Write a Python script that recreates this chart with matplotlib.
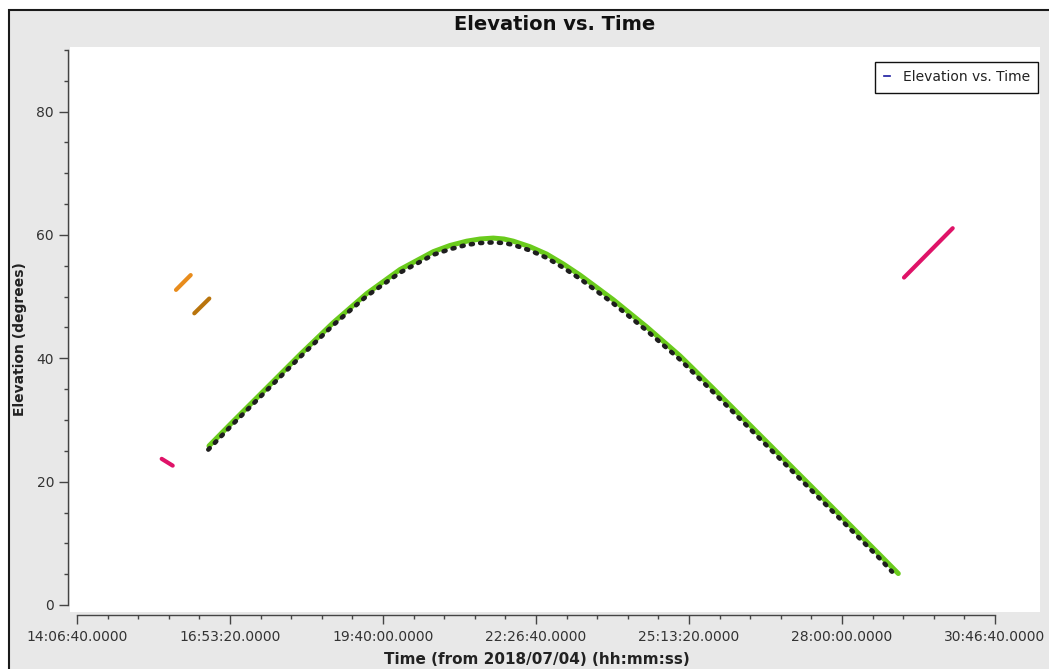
import matplotlib
matplotlib.use("Agg")
import matplotlib.pyplot as plt
from matplotlib.patches import Rectangle
from matplotlib.ticker import FixedLocator, FuncFormatter
from matplotlib.lines import Line2D

# ---------------- data (seconds from 2018/07/04 00:00, elevation deg) -------------
green_t = [59428, 61016, 63199, 65375, 67552, 69735, 71911, 74088, 75179, 76271,
           77140, 78009, 78700, 79316, 80408, 81500, 82585, 83676, 84768, 85853, 88036,
           90212, 92389, 94572, 96748, 98925, 101108, 103284, 104480]
green_el = [25.8, 29.8, 35.2, 40.6, 45.8, 50.5, 54.4, 57.3, 58.3, 59.0,
            59.35, 59.5, 59.35, 59.0, 58.1, 56.9, 55.3, 53.5, 51.5, 49.5, 45.1,
            40.4, 35.1, 29.7, 24.3, 18.9, 13.5, 8.1, 5.1]

black_t = [59382, 61016, 63199, 65375, 67552, 69735, 71911, 74088, 75179, 76271,
           77140, 78009, 78700, 79316, 80408, 81500, 82585, 83676, 84768, 85853, 88036,
           90212, 92389, 94572, 96748, 98925, 101108, 103284, 104068]
black_el = [25.2, 29.4, 34.8, 40.2, 45.4, 50.1, 53.9, 56.8, 57.7, 58.4,
            58.7, 58.8, 58.7, 58.4, 57.5, 56.3, 54.7, 52.9, 50.9, 48.9, 44.5,
            39.8, 34.5, 29.1, 23.7, 18.3, 12.9, 7.5, 5.4]

pink1_t = [56336, 57055]
pink1_el = [23.7, 22.6]
orange_t = [57271, 58232]
orange_el = [51.1, 53.5]
brown_t = [58467, 59447]
brown_el = [47.3, 49.7]
pink2_t = [104853, 108035]
pink2_el = [53.1, 61.1]

legend_label = "Elevation vs. Time"
x_major_ticks = [50800, 60800, 70800, 80800, 90800, 100800, 110800]
x_minor_ticks = list(range(50800, 110801, 2000))
y_major_ticks = [0, 20, 40, 60, 80]
y_minor_ticks = list(range(0, 91, 5))

# ---------------- figure ----------------
W, H = 1049, 669
fig = plt.figure(figsize=(W / 100, H / 100), dpi=100)
fig.patch.set_facecolor("white")
bg = "#e8e8e8"
fig.patches.append(Rectangle((9 / W, -0.1), 1.2, (H - 10) / H + 0.1,
                             transform=fig.transFigure, facecolor=bg,
                             edgecolor="#1a1a1a", linewidth=1.5, zorder=-10))

ax = fig.add_axes([70 / W, 1 - 612 / H, 970 / W, 565 / H])
ax.set_facecolor("white")

# scale: x 77px -> 50800, 995px -> 110800 ; y 605px -> 0, 50px -> 90
spx = 60000 / 918.0
ax.set_xlim(50800 - 7 * spx, 110800 + 45 * spx)
ppu = 555 / 90.0
ax.set_ylim(-(612 - 605) / ppu, (605 - 47) / ppu)

ax.plot(green_t, green_el, color="#6acb1c", lw=3.6, solid_capstyle="round",
        solid_joinstyle="round", zorder=3)
ax.plot(black_t, black_el, color="#1e1e1e", lw=3.3, linestyle=(0, (0.45, 1.6)),
        dash_capstyle="round", zorder=4)
for t, e, c in [(pink1_t, pink1_el, "#df1368"), (orange_t, orange_el, "#e88c1c"),
                (brown_t, brown_el, "#b9740c"), (pink2_t, pink2_el, "#df1368")]:
    ax.plot(t, e, color=c, lw=3.0, solid_capstyle="round", zorder=3)

# spines
for s in ["top", "right"]:
    ax.spines[s].set_visible(False)
ax.spines["left"].set_position(("outward", 1.5))
ax.spines["bottom"].set_position(("outward", 2.2))
ax.spines["left"].set_bounds(0, 90)
ax.spines["bottom"].set_bounds(50800, 110800)
for s in ["left", "bottom"]:
    ax.spines[s].set_color("#444444")
    ax.spines[s].set_linewidth(1.0)

def fmt(v, pos=None):
    h = int(v // 3600)
    m = int((v % 3600) // 60)
    sec = v % 60
    return f"{h:02d}:{m:02d}:{sec:07.4f}"

ax.xaxis.set_major_locator(FixedLocator(x_major_ticks))
ax.xaxis.set_minor_locator(FixedLocator(x_minor_ticks))
ax.xaxis.set_major_formatter(FuncFormatter(fmt))
ax.yaxis.set_major_locator(FixedLocator(y_major_ticks))
ax.yaxis.set_minor_locator(FixedLocator(y_minor_ticks))

ax.tick_params(axis="both", which="major", direction="out", length=6.5, width=1.0,
               color="#444444", labelcolor="#333333", labelsize=10)
ax.tick_params(axis="both", which="minor", direction="out", length=3.2, width=1.0,
               color="#444444")
ax.tick_params(axis="x", which="major", pad=4)
ax.tick_params(axis="y", which="major", pad=3.5)

# texts
fig.text(555 / W, 1 - 25 / H, "Elevation vs. Time", ha="center", va="center",
         fontsize=14, fontweight="bold", color="#111111")
fig.text(537 / W, 1 - 660 / H, "Time (from 2018/07/04) (hh:mm:ss)", ha="center",
         va="center", fontsize=11, fontweight="bold", color="#222222")
fig.text(20 / W, 1 - 339 / H, "Elevation (degrees)", ha="center", va="center",
         rotation=90, fontsize=10, fontweight="bold", color="#222222")

# legend
handle = Line2D([], [], color="#1a1aa0", lw=1.2)
leg = ax.legend([handle], [legend_label], loc="upper right",
                bbox_to_anchor=(1038 / W, 1 - 62 / H), bbox_transform=fig.transFigure,
                borderaxespad=0, fancybox=False, framealpha=1, edgecolor="#111111",
                handlelength=0.45, handletextpad=0.9, borderpad=0.6, fontsize=10)
leg.get_frame().set_linewidth(1.0)
for txt in leg.get_texts():
    txt.set_color("#222222")

fig.savefig("out.png", dpi=100)
